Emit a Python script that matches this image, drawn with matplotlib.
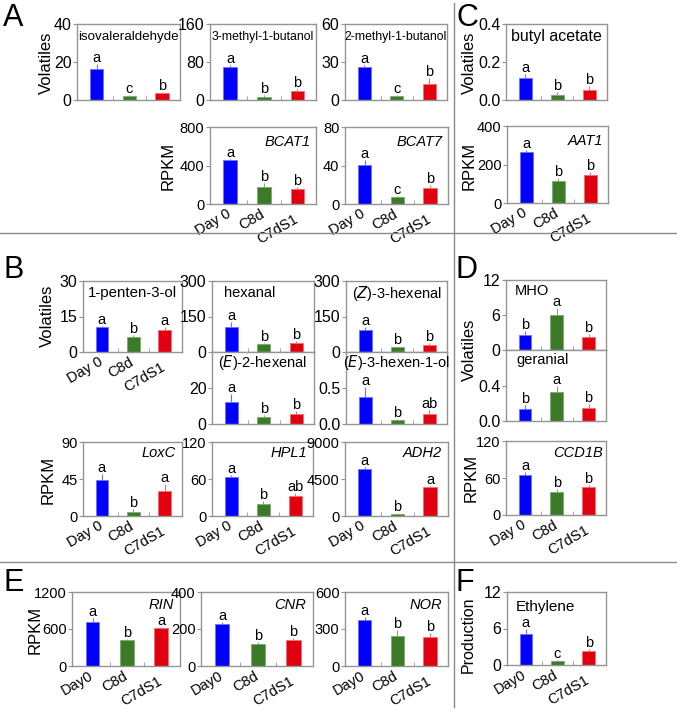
import matplotlib
matplotlib.use("Agg")
import matplotlib.pyplot as plt
from matplotlib.lines import Line2D

plt.rcParams['font.family'] = ['Liberation Sans', 'DejaVu Sans']

W, H = 677, 710
fig = plt.figure(figsize=(W / 100, H / 100), dpi=100)

# ---------------- data ----------------
groups = ["Day 0", "C8d", "C7dS1"]
groups_e = ["Day0", "C8d", "C7dS1"]
colors = ["#0000ff", "#3b7a26", "#e10010"]
err_colors = ["#7070ff", "#7fa872", "#f07070"]

isoval = [16.5, 2.0, 3.5]; isoval_err = [2.5, 0.6, 0.6]; isoval_sig = ["a", "c", "b"]
mb3 = [70, 7, 18]; mb3_err = [3, 4, 5]; mb3_sig = ["a", "b", "b"]
mb2 = [26, 3, 13]; mb2_err = [2, 1, 4]; mb2_sig = ["a", "c", "b"]
butyl = [0.115, 0.028, 0.055]; butyl_err = [0.02, 0.012, 0.02]; butyl_sig = ["a", "b", "b"]
bcat1 = [460, 180, 160]; bcat1_err = [10, 40, 20]; bcat1_sig = ["a", "b", "b"]
bcat7 = [41, 7, 17]; bcat7_err = [5, 1, 3]; bcat7_sig = ["a", "c", "b"]
aat1 = [265, 112, 143]; aat1_err = [12, 18, 20]; aat1_sig = ["a", "b", "b"]

penten = [10.5, 6.3, 9.5]; penten_err = [0.5, 1.0, 1.0]; penten_sig = ["a", "b", "a"]
hexanal = [105, 35, 38]; hexanal_err = [20, 4, 8]; hexanal_sig = ["a", "b", "b"]
z3hex = [92, 23, 28]; z3hex_err = [15, 4, 8]; z3hex_sig = ["a", "b", "b"]
e2hex = [12.5, 4.0, 5.5]; e2hex_err = [4.0, 1.0, 1.5]; e2hex_sig = ["a", "b", "b"]
e3hexol = [0.38, 0.05, 0.14]; e3hexol_err = [0.14, 0.02, 0.06]; e3hexol_sig = ["a", "b", "ab"]
loxc = [44, 5, 30]; loxc_err = [7, 3, 9]; loxc_sig = ["a", "b", "a"]
hpl1 = [63, 20, 33]; hpl1_err = [4, 5, 5]; hpl1_sig = ["a", "b", "ab"]
adh2 = [5700, 300, 3500]; adh2_err = [300, 60, 150]; adh2_sig = ["a", "b", "a"]

mho = [2.5, 6.0, 2.3]; mho_err = [0.7, 1.2, 0.4]; mho_sig = ["b", "a", "b"]
geranial = [0.14, 0.33, 0.15]; geranial_err = [0.04, 0.07, 0.04]; geranial_sig = ["b", "a", "b"]
ccd1b = [65, 37, 45]; ccd1b_err = [5, 5, 3]; ccd1b_sig = ["a", "b", "b"]

rin = [720, 420, 615]; rin_err = [60, 20, 25]; rin_sig = ["a", "b", "a"]
cnr = [228, 120, 138]; cnr_err = [12, 10, 15]; cnr_sig = ["a", "b", "b"]
nor = [375, 240, 235]; nor_err = [25, 50, 30]; nor_sig = ["a", "b", "b"]
ethylene = [5.1, 0.7, 2.3]; ethylene_err = [0.8, 0.1, 0.4]; ethylene_sig = ["a", "c", "b"]

GRAY = "#949494"


def add_ax(x0, y0, x1, y1):
    return fig.add_axes([x0 / W, 1 - y1 / H, (x1 - x0) / W, (y1 - y0) / H])


def bar_panel(box, vals, errs, sig, ylim, yticks, yticklabels, tsize=11.5,
              xlabels=None, name=None, name_pos=(0.5, 0.83), name_ha="center",
              name_size=10.5, italic=False):
    ax = add_ax(*box)
    x = list(range(len(vals)))
    ax.bar(x, vals, width=0.4, color=colors, edgecolor=err_colors, linewidth=0.6, zorder=2)
    for i in x:
        ax.errorbar(i, vals[i], yerr=[[0], [errs[i]]], fmt="none",
                    ecolor=err_colors[i], elinewidth=0.8, capsize=0, zorder=1)
        ax.annotate(sig[i], xy=(i, vals[i] + errs[i]), xytext=(0, -1),
                    textcoords="offset pixels", ha="center", va="bottom", fontsize=10.5)
    ax.set_xlim(-0.6, 2.55)
    ax.set_ylim(*ylim)
    ax.set_yticks(yticks)
    ax.set_yticklabels(yticklabels, fontsize=tsize)
    ax.tick_params(axis="y", direction="out", length=3, width=0.8, color=GRAY, pad=1)
    ax.set_xticks(x)
    ax.set_xticklabels([])
    ax.tick_params(axis="x", length=0)
    ax.set_xticks([0.5, 1.5], minor=True)
    ax.tick_params(axis="x", which="minor", direction="in", length=3, color=GRAY)
    for s in ax.spines.values():
        s.set_color(GRAY)
        s.set_linewidth(1.0)
    if name:
        ax.text(name_pos[0], name_pos[1], name, transform=ax.transAxes, ha=name_ha,
                va="center", fontsize=name_size, style="italic" if italic else "normal")
    if xlabels:
        offs = [(-4, -3), (-4, -3), (-4, -8)]
        for i, (lab, (dx, dy)) in enumerate(zip(xlabels, offs)):
            ax.annotate(lab, xy=(i, 0), xycoords=("data", "axes fraction"),
                        xytext=(dx, dy), textcoords="offset pixels", rotation=30,
                        rotation_mode="anchor", ha="right", va="top", fontsize=10.5)
    return ax


# ---------------- Panel A ----------------
bar_panel((77, 24, 180, 100), isoval, isoval_err, isoval_sig, (0, 40), [0, 20, 40],
          ["0", "20", "40"], name="isovaleraldehyde", name_size=9.6)
bar_panel((210, 24, 316, 100), mb3, mb3_err, mb3_sig, (0, 160), [0, 80, 160],
          ["0", "80", "160"], name="3-methyl-1-butanol", name_size=8.8)
bar_panel((345, 24, 447, 100), mb2, mb2_err, mb2_sig, (0, 60), [0, 30, 60],
          ["0", "30", "60"], name="2-methyl-1-butanol", name_size=8.8)
bar_panel((210, 127, 316, 204), bcat1, bcat1_err, bcat1_sig, (0, 800), [0, 400, 800],
          ["0", "400", "800"], tsize=10.5, xlabels=groups, name="BCAT1",
          name_pos=(0.95, 0.8), name_ha="right", italic=True)
bar_panel((345, 127, 448, 204), bcat7, bcat7_err, bcat7_sig, (0, 80), [0, 40, 80],
          ["0", "40", "80"], tsize=10.5, xlabels=groups, name="BCAT7",
          name_pos=(0.95, 0.8), name_ha="right", italic=True)

# ---------------- Panel C ----------------
bar_panel((506, 24, 607, 100), butyl, butyl_err, butyl_sig, (0, 0.4), [0, 0.2, 0.4],
          ["0.0", "0.2", "0.4"], name="butyl acetate", name_size=11.5)
bar_panel((507, 126, 608, 203), aat1, aat1_err, aat1_sig, (0, 400), [0, 200, 400],
          ["0", "200", "400"], tsize=10.5, xlabels=groups, name="AAT1",
          name_pos=(0.95, 0.8), name_ha="right", italic=True)

# ---------------- Panel B ----------------
bar_panel((83, 281, 182, 352), penten, penten_err, penten_sig, (0, 30), [0, 15, 30],
          ["0", "15", "30"], xlabels=groups, name="1-penten-3-ol", name_size=10.8)
bar_panel((212, 281, 314, 352), hexanal, hexanal_err, hexanal_sig, (0, 300), [0, 150, 300],
          ["0", "150", "300"], name="hexanal", name_pos=(0.12, 0.83), name_ha="left")
bar_panel((212, 352, 314, 424), e2hex, e2hex_err, e2hex_sig, (0, 40), [0, 20],
          ["0", "20"], name="($\\it{E}$)-2-hexenal", name_pos=(0.5, 0.85))
bar_panel((346, 281, 447, 352), z3hex, z3hex_err, z3hex_sig, (0, 300), [0, 150, 300],
          ["0", "150", "300"], name="($\\it{Z}$)-3-hexenal", name_pos=(0.5, 0.83))
bar_panel((346, 352, 447, 424), e3hexol, e3hexol_err, e3hexol_sig, (0, 1.0), [0, 0.5],
          ["0.0", "0.5"], name="($\\it{E}$)-3-hexen-1-ol", name_pos=(0.5, 0.85))
bar_panel((83, 442, 182, 516), loxc, loxc_err, loxc_sig, (0, 90), [0, 45, 90],
          ["0", "45", "90"], tsize=10.5, xlabels=groups, name="LoxC",
          name_pos=(0.94, 0.85), name_ha="right", italic=True)
bar_panel((212, 442, 313, 516), hpl1, hpl1_err, hpl1_sig, (0, 120), [0, 60, 120],
          ["0", "60", "120"], tsize=10.5, xlabels=groups, name="HPL1",
          name_pos=(0.94, 0.85), name_ha="right", italic=True)
bar_panel((345, 442, 448, 516), adh2, adh2_err, adh2_sig, (0, 9000), [0, 4500, 9000],
          ["0", "4500", "9000"], tsize=10.5, xlabels=groups, name="ADH2",
          name_pos=(0.94, 0.85), name_ha="right", italic=True)

# ---------------- Panel D ----------------
bar_panel((506, 280, 606, 350), mho, mho_err, mho_sig, (0, 12), [0, 6, 12],
          ["0", "6", "12"], name="MHO", name_pos=(0.09, 0.84), name_ha="left")
bar_panel((506, 350, 606, 421), geranial, geranial_err, geranial_sig, (0, 0.8), [0, 0.4],
          ["0.0", "0.4"], name="geranial", name_pos=(0.1, 0.86), name_ha="left")
bar_panel((506, 441, 606, 515), ccd1b, ccd1b_err, ccd1b_sig, (0, 120), [0, 60, 120],
          ["0", "60", "120"], tsize=10.5, xlabels=groups, name="CCD1B",
          name_pos=(0.97, 0.84), name_ha="right", italic=True)

# ---------------- Panel E ----------------
bar_panel((72, 592, 180, 666), rin, rin_err, rin_sig, (0, 1200), [0, 600, 1200],
          ["0", "600", "1200"], tsize=10.5, xlabels=groups_e, name="RIN",
          name_pos=(0.94, 0.83), name_ha="right", italic=True)
bar_panel((201, 592, 313, 666), cnr, cnr_err, cnr_sig, (0, 400), [0, 200, 400],
          ["0", "200", "400"], tsize=10.5, xlabels=groups_e, name="CNR",
          name_pos=(0.94, 0.83), name_ha="right", italic=True)
bar_panel((345, 592, 448, 666), nor, nor_err, nor_sig, (0, 600), [0, 300, 600],
          ["0", "300", "600"], tsize=10.5, xlabels=groups_e, name="NOR",
          name_pos=(0.94, 0.83), name_ha="right", italic=True)

# ---------------- Panel F ----------------
bar_panel((507, 592, 606, 665), ethylene, ethylene_err, ethylene_sig, (0, 12), [0, 6, 12],
          ["0", "6", "12"], xlabels=groups_e, name="Ethylene",
          name_pos=(0.09, 0.8), name_ha="left", name_size=11)

# ---------------- y labels ----------------
ylabels = [("Volatiles", 46, 63, 12), ("RPKM", 168, 166, 12), ("Volatiles", 469, 63, 12),
           ("RPKM", 469, 166, 12), ("Volatiles", 47, 316, 12), ("RPKM", 48, 480, 12),
           ("Volatiles", 469, 350, 12), ("RPKM", 471, 478, 12), ("RPKM", 35, 630, 12),
           ("Production", 468, 635, 11.5)]
for txt, px, py, fs in ylabels:
    fig.text(px / W, 1 - py / H, txt, rotation=90, ha="center", va="center", fontsize=fs)

# ---------------- panel letters ----------------
letters = [("A", 3, 26), ("C", 456, 26), ("B", 3, 278), ("D", 456, 278),
           ("E", 3, 591), ("F", 456, 591)]
for txt, px, py in letters:
    fig.text(px / W, 1 - py / H, txt, ha="left", va="baseline", fontsize=22)

# ---------------- separators ----------------
sep_color = "#8a8a8a"
fig.add_artist(Line2D([0, 1], [1 - 233 / H, 1 - 233 / H], transform=fig.transFigure,
                      color=sep_color, lw=1.0))
fig.add_artist(Line2D([0, 1], [1 - 562 / H, 1 - 562 / H], transform=fig.transFigure,
                      color=sep_color, lw=1.0))
fig.add_artist(Line2D([454 / W, 454 / W], [1 - 3 / H, 1 - 707 / H], transform=fig.transFigure,
                      color=sep_color, lw=1.0))

fig.savefig("out.png", dpi=100)
